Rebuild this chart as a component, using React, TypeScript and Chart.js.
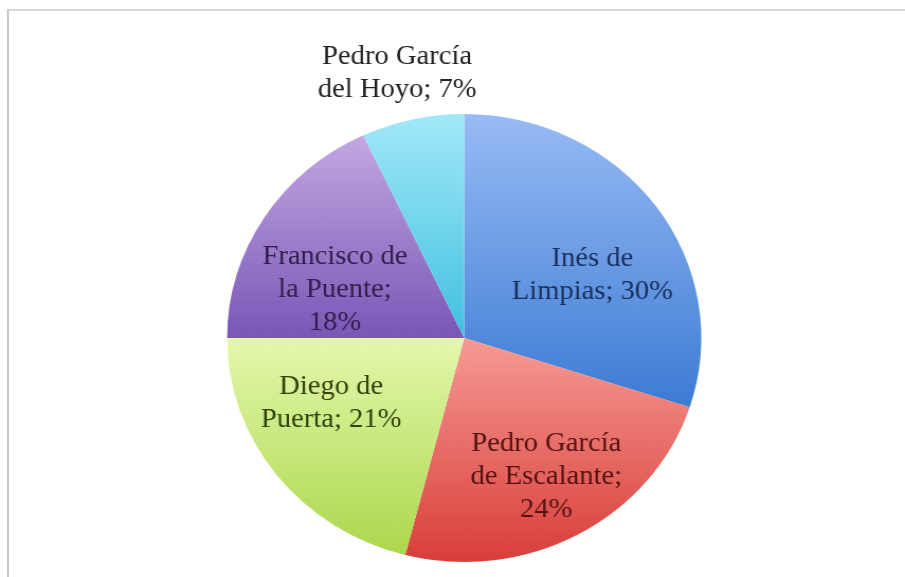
import React, { useEffect, useRef } from "react";
import { Chart, registerables } from "chart.js";

Chart.register(...registerables);

// ---- data ----
const categories = [
  "Inés de Limpias",
  "Pedro García de Escalante",
  "Diego de Puerta",
  "Francisco de la Puente",
  "Pedro García del Hoyo",
];
const shares = [30, 24, 21, 18, 7];

// ---- styles ----
const gradTop = ["#98bbf5", "#f69a94", "#e4f8ad", "#c3a8e2", "#a2e9f8"];
const gradBottom = ["#3c7bd3", "#d93e39", "#acd74c", "#7a56b6", "#40c0e0"];
const labelColors = ["#1a2f5c", "#521212", "#30420c", "#30204c", "#222222"];
// label block centre, as fraction of radius from pie centre (canvas units)
const labelOffsets: [number, number][] = [
  [0.54, -0.28],
  [0.346, 0.62],
  [-0.561, 0.29],
  [-0.545, -0.214],
  [-0.283, -1.18],
];

const STRETCH = 1.058;
const W = 905;
const H = 577;
const CW = Math.round(W / STRETCH);
const FAMILY = "'Liberation Serif', 'Times New Roman', 'DejaVu Serif', serif";
const FONT = "27px " + FAMILY;
const LINE_H = 33;
const WRAP = 158;

function sliceGradient(ctx: any) {
  const chart = ctx.chart;
  const area = chart.chartArea;
  const i = ctx.dataIndex ?? 0;
  if (!area) return gradBottom[i];
  const cx = (area.left + area.right) / 2;
  const cy = (area.top + area.bottom) / 2;
  const r = Math.min(area.right - area.left, area.bottom - area.top) / 2;
  const total = shares.reduce((a, b) => a + b, 0);
  let before = 0;
  for (let k = 0; k < i; k++) before += shares[k];
  const a0 = -Math.PI / 2 + (2 * Math.PI * before) / total;
  const a1 = a0 + (2 * Math.PI * shares[i]) / total;
  const ys = [cy, cy + r * Math.sin(a0), cy + r * Math.sin(a1)];
  if (a0 <= Math.PI / 2 && a1 >= Math.PI / 2) ys.push(cy + r);
  if (a0 <= (3 * Math.PI) / 2 && a1 >= (3 * Math.PI) / 2) ys.push(cy - r);
  const y0 = Math.min(...ys);
  const y1 = Math.max(...ys);
  const g = chart.ctx.createLinearGradient(0, y0, 0, y1 + 0.01);
  g.addColorStop(0, gradTop[i]);
  g.addColorStop(1, gradBottom[i]);
  return g;
}

function wrapText(c: CanvasRenderingContext2D, text: string, maxW: number) {
  const words = text.split(" ");
  const lines: string[] = [];
  let cur = "";
  for (const w of words) {
    const test = cur ? cur + " " + w : w;
    if (cur && c.measureText(test).width > maxW) {
      lines.push(cur);
      cur = w;
    } else cur = test;
  }
  if (cur) lines.push(cur);
  return lines;
}

const labelPlugin = {
  id: "sliceLabels",
  afterDraw(chart: any) {
    const meta = chart.getDatasetMeta(0);
    const c: CanvasRenderingContext2D = chart.ctx;
    c.save();
    c.font = FONT;
    c.textAlign = "center";
    c.textBaseline = "middle";
    meta.data.forEach((arc: any, i: number) => {
      const { x, y, outerRadius } = arc.getProps(["x", "y", "outerRadius"], true);
      const [fx, fy] = labelOffsets[i];
      const bx = x + outerRadius * fx;
      const by = y + outerRadius * fy;
      const text = `${categories[i]}; ${shares[i]}%`;
      const lines = wrapText(c, text, WRAP);
      c.fillStyle = labelColors[i];
      const startY = by - ((lines.length - 1) * LINE_H) / 2;
      lines.forEach((ln, k) => c.fillText(ln, bx, startY + k * LINE_H));
    });
    c.restore();
  },
};

export default function App() {
  const ref = useRef<HTMLCanvasElement>(null);
  useEffect(() => {
    const canvas = ref.current!;
    const cxScreen = 464;
    const cy = 338;
    const r = 224;
    const cx = cxScreen / STRETCH;
    const chart = new Chart(canvas, {
      type: "pie",
      data: {
        labels: categories,
        datasets: [
          {
            data: shares,
            backgroundColor: (ctx: any) => sliceGradient(ctx),
            borderWidth: 0,
          },
        ],
      },
      options: {
        responsive: false,
        animation: false,
        devicePixelRatio: 1,
        layout: {
          padding: {
            left: cx - r,
            right: CW - (cx + r),
            top: cy - r,
            bottom: H - (cy + r),
          },
        },
        plugins: {
          legend: { display: false },
          tooltip: { enabled: false },
        },
      } as any,
      plugins: [labelPlugin],
    });
    let alive = true;
    if ((document as any).fonts && (document as any).fonts.load) {
      (document as any).fonts
        .load(FONT, "Pedro García")
        .then(() => {
          if (alive) chart.draw();
        })
        .catch(() => {});
    }
    return () => {
      alive = false;
      chart.destroy();
    };
  }, []);

  return (
    <div
      style={{
        position: "absolute",
        left: 0,
        top: 0,
        width: W,
        height: H,
        background: "#ffffff",
        overflow: "hidden",
      }}
    >
      <span
        style={{
          position: "absolute",
          left: -1000,
          top: 0,
          fontFamily: FAMILY,
          fontSize: 27,
        }}
      >
        Pedro García
      </span>
      <div
        style={{
          position: "absolute",
          left: 7,
          top: 9,
          right: -10,
          bottom: -10,
          borderTop: "2px solid #dadada",
          borderLeft: "2px solid #c8c8c8",
        }}
      />
      <canvas
        ref={ref}
        width={CW}
        height={H}
        style={{ position: "absolute", left: 0, top: 0, width: W + "px", height: H + "px" }}
      />
    </div>
  );
}
